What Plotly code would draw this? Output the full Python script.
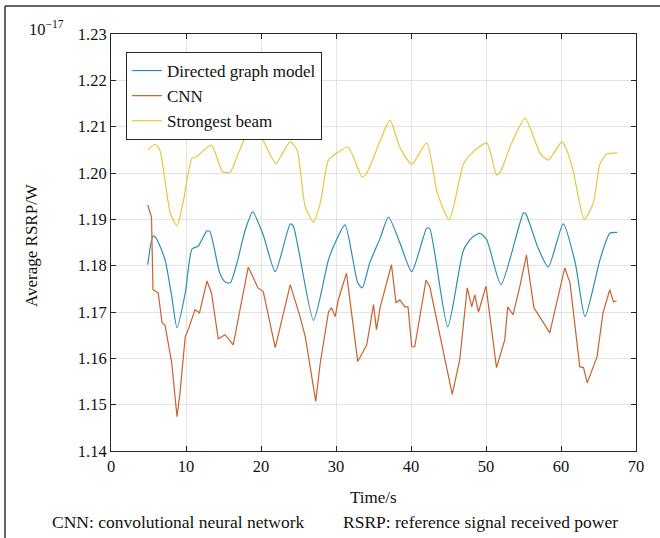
import plotly.graph_objects as go

# Strongest beam
t_beam = [4.9, 5.9, 6.5, 7.9, 8.8, 9.6, 10.8, 11.4, 12.1, 13.4, 14.9, 15.9, 16.8, 17.7, 19.0,
          20.3, 22.0, 22.6, 23.9, 24.8, 25.9, 27.0, 27.9, 29.0, 30.1, 31.6, 33.5, 34.1, 35.9,
          37.2, 38.5, 40.1, 42.1, 43.5, 45.1, 47.0, 48.1, 50.1, 51.4, 52.0, 53.2, 55.2, 57.2,
          58.3, 60.1, 60.6, 61.6, 63.1, 64.3, 65.2, 66.1, 67.5]
v_beam = [1.2050, 1.2062, 1.2050, 1.1914, 1.1886, 1.1935, 1.2032, 1.2035, 1.2045, 1.2060,
          1.2002, 1.2002, 1.2035, 1.2070, 1.2114, 1.2070, 1.2020, 1.2035, 1.2067, 1.2050,
          1.1927, 1.1894, 1.1935, 1.2028, 1.2043, 1.2056, 1.1991, 1.2000, 1.2070, 1.2114,
          1.2056, 1.2019, 1.2065, 1.1957, 1.1899, 1.2020, 1.2043, 1.2065, 1.1996, 1.2005,
          1.2056, 1.2118, 1.2043, 1.2028, 1.2067, 1.2056, 1.2006, 1.1900, 1.1935, 1.2020,
          1.2041, 1.2043]

# Directed graph model
t_graph = [4.9, 5.6, 6.0, 7.2, 8.1, 8.8, 9.9, 10.8, 11.6, 12.8, 13.2, 14.5, 15.2, 15.9, 16.8,
           17.9, 18.9, 20.3, 21.9, 23.9, 24.3, 27.0, 29.0, 29.9, 31.2, 32.9, 33.5, 34.5, 35.9,
           37.0, 38.5, 40.1, 42.1, 42.5, 44.9, 47.0, 48.1, 49.2, 50.1, 52.0, 55.0, 55.3, 56.9,
           58.3, 60.3, 61.9, 63.2, 65.2, 66.5, 67.5]
v_graph = [1.1802, 1.1864, 1.1860, 1.1813, 1.1733, 1.1666, 1.1741, 1.1836, 1.1842, 1.1875,
           1.1873, 1.1784, 1.1765, 1.1763, 1.1806, 1.1877, 1.1916, 1.1866, 1.1787, 1.1890,
           1.1886, 1.1682, 1.1813, 1.1850, 1.1888, 1.1763, 1.1752, 1.1806, 1.1860, 1.1905,
           1.1850, 1.1787, 1.1881, 1.1880, 1.1668, 1.1834, 1.1860, 1.1870, 1.1856, 1.1759,
           1.1914, 1.1912, 1.1840, 1.1797, 1.1890, 1.1806, 1.1690, 1.1813, 1.1870, 1.1872]

# CNN
t_cnn = [4.9, 5.2, 5.4, 5.6, 6.3, 6.8, 7.2, 8.1, 8.8, 9.2, 9.9, 10.3, 11.2, 11.8, 12.8, 13.4,
         14.3, 15.2, 16.3, 17.2, 18.3, 19.6, 20.3, 21.9, 23.9, 25.2, 25.9, 27.3, 27.9, 29.0,
         29.4, 29.9, 30.3, 31.4, 32.9, 34.1, 35.0, 35.4, 35.9, 37.4, 38.0, 38.5, 39.2, 39.6,
         40.1, 40.5, 42.0, 42.5, 45.5, 46.5, 47.5, 48.1, 48.5, 49.0, 50.0, 51.4, 52.5, 52.9,
         53.6, 54.5, 55.4, 55.6, 56.4, 58.5, 60.5, 61.2, 62.5, 63.0, 63.5, 64.8, 65.6, 66.5,
         67.0, 67.4]
v_cnn = [1.1931, 1.1916, 1.1905, 1.1748, 1.1741, 1.1677, 1.1672, 1.1590, 1.1474, 1.1526,
         1.1647, 1.1662, 1.1705, 1.1698, 1.1767, 1.1741, 1.1642, 1.1651, 1.1629, 1.1705,
         1.1797, 1.1752, 1.1744, 1.1623, 1.1759, 1.1690, 1.1647, 1.1507, 1.1590, 1.1700,
         1.1709, 1.1690, 1.1726, 1.1784, 1.1593, 1.1629, 1.1716, 1.1662, 1.1711, 1.1802,
         1.1720, 1.1726, 1.1711, 1.1711, 1.1625, 1.1625, 1.1769, 1.1755, 1.1522, 1.1597,
         1.1752, 1.1711, 1.1737, 1.1700, 1.1756, 1.1580, 1.1640, 1.1711, 1.1694, 1.1754,
         1.1823, 1.1797, 1.1709, 1.1655, 1.1795, 1.1763, 1.1582, 1.1580, 1.1547, 1.1603,
         1.1698, 1.1748, 1.1722, 1.1724]

x_ticks = [0, 10, 20, 30, 40, 50, 60, 70]
y_ticks = [1.14, 1.15, 1.16, 1.17, 1.18, 1.19, 1.20, 1.21, 1.22, 1.23]

FONT = "Liberation Serif"
INK = "#111111"

W, H = 660, 538
L, R, T, B = 111, 24, 34, 87
PW, PH = W - L - R, H - T - B


def px(x):
    return (x - L) / PW


def py(y):
    return (H - B - y) / PH


fig = go.Figure()
fig.add_trace(go.Scatter(x=t_graph, y=v_graph, mode="lines", name="Directed graph model",
                         line=dict(color="#2b8db5", width=1.2, shape="spline", smoothing=0.6)))
fig.add_trace(go.Scatter(x=t_cnn, y=v_cnn, mode="lines", name="CNN",
                         line=dict(color="#c8622e", width=1.2)))
fig.add_trace(go.Scatter(x=t_beam, y=v_beam, mode="lines", name="Strongest beam",
                         line=dict(color="#e6c640", width=1.2, shape="spline", smoothing=0.6)))

axis_common = dict(showline=True, mirror="ticks", linecolor="#262626", linewidth=1,
                   ticks="inside", ticklen=5, tickcolor="#262626",
                   showgrid=True, gridcolor="#e3e3e3", gridwidth=1, zeroline=False,
                   automargin=False,
                   tickfont=dict(family=FONT, size=16.5, color=INK))

fig.update_layout(
    width=W, height=H, autosize=False,
    margin=dict(l=L, r=R, t=T, b=B),
    paper_bgcolor="white", plot_bgcolor="white",
    font=dict(family=FONT, size=16, color=INK),
    showlegend=True,
    legend=dict(x=px(126), y=py(52), xanchor="left", yanchor="top",
                bgcolor="white", bordercolor="#262626", borderwidth=1,
                font=dict(family=FONT, size=17, color=INK),
                tracegroupgap=0, itemwidth=30),
    xaxis=dict(range=[0, 70], tickvals=x_ticks, **axis_common),
    yaxis=dict(range=[1.14, 1.23], tickvals=y_ticks, tickformat=".2f", **axis_common),
)

annotations = [
    dict(text="10<sup>−17</sup>", x=px(46), y=py(28), xanchor="center", yanchor="middle",
         font=dict(family=FONT, size=16.5, color=INK)),
    dict(text="Average RSRP/W", x=px(32), y=py(245), xanchor="center", yanchor="middle",
         textangle=-90, font=dict(family=FONT, size=17, color=INK)),
    dict(text="Time/s", x=px(373), y=py(497), xanchor="center", yanchor="middle",
         font=dict(family=FONT, size=17, color=INK)),
    dict(text="CNN: convolutional neural network", x=px(178), y=py(522),
         xanchor="center", yanchor="middle", font=dict(family=FONT, size=17.5, color=INK)),
    dict(text="RSRP: reference signal received power", x=px(480), y=py(522),
         xanchor="center", yanchor="middle", font=dict(family=FONT, size=17.5, color=INK)),
]
for a in annotations:
    a.update(xref="paper", yref="paper", showarrow=False)
fig.update_layout(annotations=annotations)

# figure frame (left and top edges)
fig.add_shape(type="line", xref="paper", yref="paper",
              x0=px(5), x1=px(5), y0=py(540), y1=py(6),
              line=dict(color="#333", width=1.5))
fig.add_shape(type="line", xref="paper", yref="paper",
              x0=px(5), x1=px(662), y0=py(6), y1=py(6),
              line=dict(color="#333", width=1.5))

fig.write_html("out.html", config={"responsive": False, "displayModeBar": False},
               post_script="document.body.style.margin='0';document.body.style.overflow='hidden';")
